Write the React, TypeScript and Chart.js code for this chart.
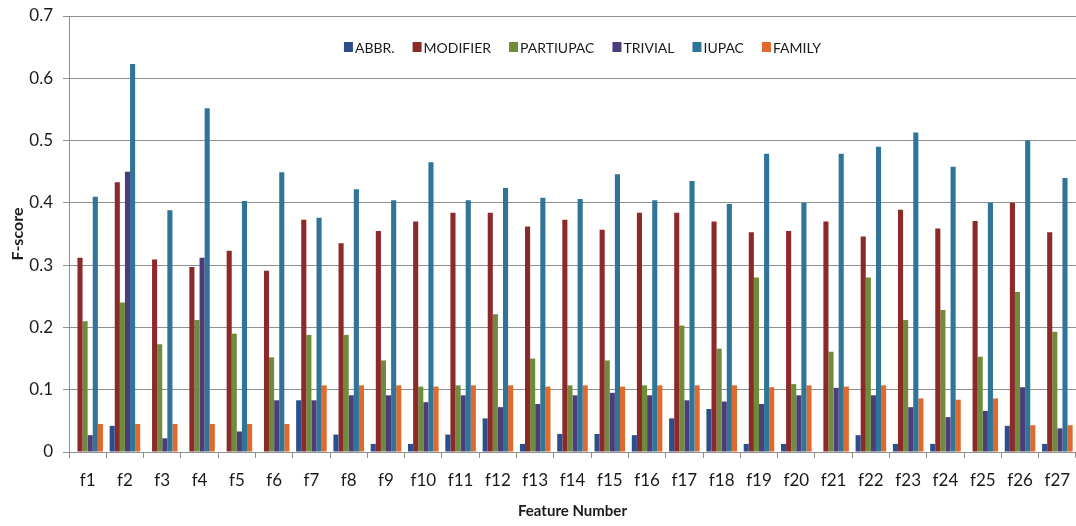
import { useEffect, useRef } from "react";
import { Chart, registerables } from "chart.js";

Chart.register(...registerables);

const categories = [
  "f1", "f2", "f3", "f4", "f5", "f6", "f7", "f8", "f9", "f10", "f11", "f12", "f13", "f14",
  "f15", "f16", "f17", "f18", "f19", "f20", "f21", "f22", "f23", "f24", "f25", "f26", "f27",
];

const abbr = [
  0, 0.042, 0, 0, 0, 0, 0.083, 0.028, 0.013, 0.013, 0.028, 0.054, 0.013, 0.029,
  0.029, 0.027, 0.054, 0.069, 0.013, 0.013, 0, 0.027, 0.013, 0.013, 0, 0.042, 0.013,
];
const modifier = [
  0.312, 0.433, 0.309, 0.297, 0.323, 0.291, 0.373, 0.335, 0.355, 0.37, 0.384, 0.384, 0.362, 0.373,
  0.357, 0.384, 0.384, 0.37, 0.353, 0.355, 0.37, 0.346, 0.389, 0.359, 0.371, 0.4, 0.353,
];
const partiupac = [
  0.21, 0.24, 0.173, 0.212, 0.19, 0.152, 0.188, 0.188, 0.147, 0.105, 0.107, 0.221, 0.15, 0.107,
  0.147, 0.107, 0.203, 0.166, 0.28, 0.109, 0.161, 0.28, 0.212, 0.228, 0.153, 0.257, 0.193,
];
const trivial = [
  0.027, 0.45, 0.022, 0.312, 0.033, 0.083, 0.083, 0.091, 0.091, 0.08, 0.091, 0.072, 0.077, 0.091,
  0.095, 0.091, 0.083, 0.081, 0.077, 0.091, 0.103, 0.091, 0.072, 0.056, 0.066, 0.104, 0.038,
];
const iupac = [
  0.41, 0.623, 0.388, 0.552, 0.403, 0.449, 0.376, 0.422, 0.404, 0.465, 0.404, 0.424, 0.408, 0.406,
  0.446, 0.404, 0.435, 0.398, 0.479, 0.4, 0.479, 0.49, 0.513, 0.458, 0.4, 0.5, 0.44,
];
const family = [
  0.045, 0.045, 0.045, 0.045, 0.045, 0.045, 0.107, 0.107, 0.107, 0.105, 0.107, 0.107, 0.105, 0.107,
  0.105, 0.107, 0.107, 0.107, 0.104, 0.107, 0.105, 0.107, 0.086, 0.084, 0.086, 0.043, 0.043,
];

const seriesNames = ["ABBR.", "MODIFIER", "PARTIUPAC", "TRIVIAL", "IUPAC", "FAMILY"];
const seriesValues = [abbr, modifier, partiupac, trivial, iupac, family];
const seriesColors = ["#2C4E8C", "#8C2A2A", "#6E8C3A", "#4D3C7C", "#2E7597", "#E0692C"];

const yMin = 0;
const yMax = 0.7;
const yStep = 0.1;

const FONT = "Lato";
const GRID = "#8f8f8f";

const insideLegend = {
  id: "insideLegend",
  afterDatasetsDraw(chart: any) {
    const { ctx, chartArea } = chart;
    ctx.save();
    ctx.font = `14px ${FONT}`;
    ctx.textBaseline = "middle";
    const box = 9;
    const gap = 2;
    const spacing = 18;
    const items = chart.data.datasets.map((ds: any) => ({
      label: ds.label,
      color: ds.backgroundColor,
      w: ctx.measureText(ds.label).width,
    }));
    const total =
      items.reduce((s: number, it: any) => s + box + gap + it.w, 0) + spacing * (items.length - 1);
    let x = (chartArea.left + chartArea.right) / 2 + 10 - total / 2;
    const y = chartArea.top + 31;
    for (const it of items) {
      ctx.fillStyle = it.color;
      ctx.fillRect(x, y - 5, box, 10);
      ctx.fillStyle = "#1a1a1a";
      ctx.fillText(it.label, x + box + gap, y + 1);
      x += box + gap + it.w + spacing;
    }
    ctx.restore();
  },
};

export default function App() {
  const ref = useRef<HTMLCanvasElement | null>(null);

  useEffect(() => {
    if (!ref.current) return;
    const chart = new Chart(ref.current, {
      type: "bar",
      data: {
        labels: categories,
        datasets: seriesNames.map((name, i) => ({
          label: name,
          data: seriesValues[i],
          backgroundColor: seriesColors[i],
          borderWidth: 0,
          categoryPercentage: 0.82,
          barPercentage: 1,
        })),
      },
      options: {
        responsive: false,
        animation: false,
        layout: { padding: { top: 16, left: 0, right: 0, bottom: 0 } },
        plugins: {
          legend: { display: false },
          tooltip: { enabled: false },
        },
        scales: {
          x: {
            grid: {
              display: true,
              drawOnChartArea: false,
              drawTicks: true,
              tickLength: 6,
              color: GRID,
              offset: true,
            },
            border: { display: true, color: GRID, width: 1 },
            ticks: {
              color: "#1a1a1a",
              font: { family: FONT, size: 17 },
              padding: 12,
              maxRotation: 0,
              autoSkip: false,
            },
            title: {
              display: true,
              text: "Feature Number",
              color: "#1a1a1a",
              font: { family: FONT, size: 15, weight: "bold" },
              padding: { top: 0, bottom: 6 },
            },
            afterFit: (s: any) => {
              s.height = 74;
              s.paddingLeft = 0;
              s.paddingRight = 0;
            },
          },
          y: {
            min: yMin,
            max: yMax,
            grid: {
              color: GRID,
              lineWidth: 1,
              drawTicks: true,
              tickLength: 6,
            },
            border: { display: true, color: GRID, width: 1 },
            ticks: {
              stepSize: yStep,
              color: "#1a1a1a",
              font: { family: FONT, size: 17 },
              padding: 10,
              callback: (v: any) => (Number(v) === 0 ? "0" : Number(v).toFixed(1)),
            },
            title: {
              display: true,
              text: "F-score",
              color: "#1a1a1a",
              font: { family: FONT, size: 16, weight: "bold" },
              padding: { top: 8, bottom: 0 },
            },
            afterFit: (s: any) => {
              s.width = 69;
              s.paddingTop = 0;
              s.paddingBottom = 0;
            },
          },
        },
      },
      plugins: [insideLegend],
    });
    return () => chart.destroy();
  }, []);

  return (
    <div style={{ position: "absolute", left: 0, top: 0, width: 1076, height: 526, background: "#fff" }}>
      <canvas ref={ref} width={1076} height={526} style={{ display: "block" }} />
    </div>
  );
}
